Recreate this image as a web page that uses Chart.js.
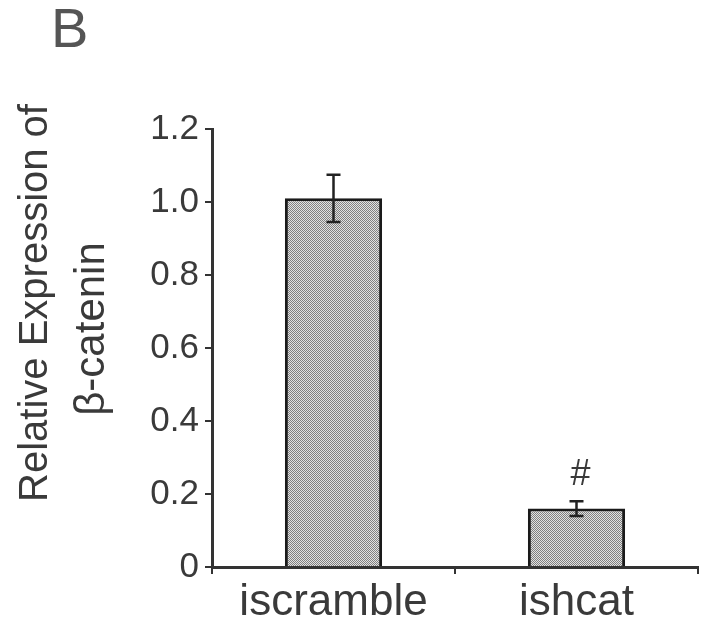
<!DOCTYPE html>
<html>
<head>
<meta charset="utf-8">
<script src="https://cdn.jsdelivr.net/npm/chart.js@4.4.1/dist/chart.umd.min.js"></script>
<style>
  html, body { margin: 0; padding: 0; background: #fff; }
  #wrap { width: 702px; height: 631px; }
</style>
</head>
<body>
<div id="wrap"><canvas id="barChart" width="702" height="631"></canvas></div>
<script>
// data
const groups = ['iscramble', 'ishcat'];
const meanValues = [1.01, 0.16];
const errValues = [0.065, 0.02];
const marks = ['', '#'];
const yTickLabels = ['0', '0.2', '0.4', '0.6', '0.8', '1.0', '1.2'];
const yTitleLines = ['Relative Expression of', 'β-catenin'];
const panelLetter = 'B';

const FONT = '"Liberation Sans", Arial, sans-serif';
const INK = '#3a3a3a';

// halftone-ish fill like the scanned bars
function dotPattern() {
  const c = document.createElement('canvas');
  c.width = 2; c.height = 2;
  const g = c.getContext('2d');
  g.fillStyle = '#e2e2e2';
  g.fillRect(0, 0, 2, 2);
  g.fillStyle = '#808080';
  g.fillRect(0, 0, 1, 1);
  g.fillRect(1, 1, 1, 1);
  return g.createPattern(c, 'repeat');
}

// error bars, # mark, axis title and panel letter
const extrasPlugin = {
  id: 'extras',
  afterDatasetsDraw(chart) {
    const ctx = chart.ctx;
    const y = chart.scales.y;
    const meta = chart.getDatasetMeta(0);
    ctx.save();
    ctx.strokeStyle = '#222';
    ctx.lineWidth = 2.5;
    meta.data.forEach((bar, i) => {
      const top = y.getPixelForValue(meanValues[i] + errValues[i]);
      const bot = y.getPixelForValue(meanValues[i] - errValues[i]);
      ctx.beginPath();
      ctx.moveTo(bar.x, top); ctx.lineTo(bar.x, bot);
      ctx.moveTo(bar.x - 7, top); ctx.lineTo(bar.x + 7, top);
      ctx.moveTo(bar.x - 7, bot); ctx.lineTo(bar.x + 7, bot);
      ctx.stroke();
      if (marks[i]) {
        ctx.fillStyle = INK;
        ctx.font = '36px ' + FONT;
        ctx.textAlign = 'center';
        ctx.textBaseline = 'alphabetic';
        ctx.fillText(marks[i], bar.x + 4, top - 16);
      }
    });
    ctx.restore();
  },
  afterDraw(chart) {
    const ctx = chart.ctx;
    ctx.save();
    ctx.fillStyle = INK;
    ctx.font = '40px ' + FONT;
    ctx.textAlign = 'center';
    ctx.textBaseline = 'middle';
    ctx.translate(36, 303);
    ctx.rotate(-Math.PI / 2);
    ctx.fillText(yTitleLines[0], 0, 0);
    ctx.restore();
    ctx.save();
    ctx.fillStyle = INK;
    ctx.font = '42px ' + FONT;
    ctx.textAlign = 'center';
    ctx.textBaseline = 'middle';
    ctx.translate(92, 329);
    ctx.rotate(-Math.PI / 2);
    ctx.fillText(yTitleLines[1], 0, 0);
    ctx.restore();
    ctx.save();
    ctx.fillStyle = '#555';
    ctx.font = '56px ' + FONT;
    ctx.textAlign = 'left';
    ctx.textBaseline = 'top';
    ctx.fillText(panelLetter, 51, 4);
    ctx.restore();
  }
};

const ctx = document.getElementById('barChart').getContext('2d');
new Chart(ctx, {
  type: 'bar',
  data: {
    labels: groups,
    datasets: [{
      data: meanValues,
      backgroundColor: dotPattern(),
      borderColor: '#1a1a1a',
      borderWidth: 3,
      borderSkipped: 'bottom',
      barPercentage: 0.4,
      categoryPercentage: 1.0
    }]
  },
  options: {
    responsive: false,
    animation: false,
    events: [],
    layout: { padding: { top: 129, right: 4, bottom: 0, left: 0 } },
    plugins: {
      legend: { display: false },
      tooltip: { enabled: false }
    },
    scales: {
      x: {
        offset: true,
        afterFit(scale) { scale.height = 64; },
        border: { display: true, color: '#333', width: 3 },
        grid: {
          offset: true,
          drawOnChartArea: false,
          drawTicks: true,
          tickLength: 7,
          color: (c) => (c.index === 2 ? 'rgba(0,0,0,0)' : '#333'),
          lineWidth: 2
        },
        ticks: { color: INK, font: { family: FONT, size: 44 }, padding: 2 }
      },
      y: {
        min: 0,
        max: 1.2,
        afterFit(scale) { scale.width = 212; },
        border: { display: true, color: '#333', width: 3 },
        grid: { drawOnChartArea: false, drawTicks: true, tickLength: 7, color: '#333', lineWidth: 2 },
        ticks: {
          stepSize: 0.2,
          color: INK,
          padding: 6,
          font: { family: FONT, size: 35 },
          callback: (v, i) => yTickLabels[i]
        }
      }
    }
  },
  plugins: [extrasPlugin]
});
</script>
</body>
</html>
